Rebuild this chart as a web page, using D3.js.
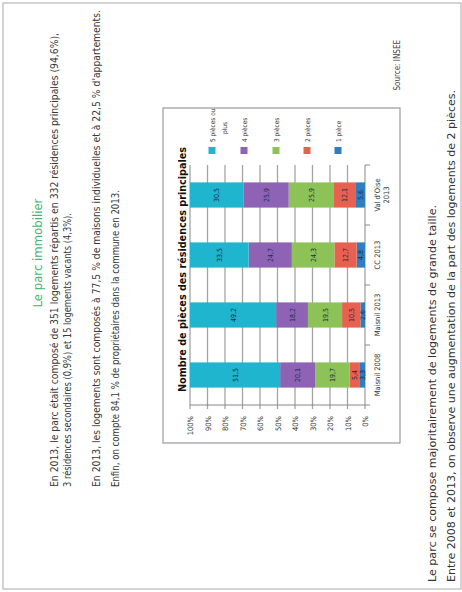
<!DOCTYPE html>
<html>
<head>
<meta charset="utf-8">
<script src="https://cdn.jsdelivr.net/npm/d3@7"></script>
<style>
  body { margin: 0; background: #fff; }
  text { font-family: "Liberation Sans Narrow", "DejaVu Sans Condensed", "DejaVu Sans", sans-serif; }
</style>
</head>
<body>
<svg id="page" width="462" height="592"></svg>
<script>
// Data.
var categories = ['Maisnil 2008', 'Maisnil 2013', 'CC 2013', 'Val d\'Oise\n2013'];
var seriesNames = ['1 pièce', '2 pièces', '3 pièces', '4 pièces', '5 pièces ou\nplus'];
var onePiece = [3.3, 2.6, 4.8, 5.6];
var twoPieces = [5.4, 10.5, 12.7, 12.1];
var threePieces = [19.7, 19.5, 24.3, 25.9];
var fourPieces = [20.1, 18.2, 24.7, 25.9];
var fivePlus = [51.5, 49.2, 33.5, 30.5];
var yTicks = [0, 10, 20, 30, 40, 50, 60, 70, 80, 90, 100];

var introLines = [
  'En 2013, le parc était composé de 351 logements répartis en 332 résidences principales (94,6%),',
  '3 résidences secondaires (0,9%) et 15 logements vacants (4,3%).',
  'En 2013, les logements sont composés à 77,5 % de maisons individuelles et à 22,5 % d\'appartements.',
  'Enfin, on compte 84,1 % de propriétaires dans la commune en 2013.'
];
var outroLines = [
  'Le parc se compose majoritairement de logements de grande taille.',
  'Entre 2008 et 2013, on observe une augmentation de la part des logements de 2 pièces.'
];

// Colors.
var kColors = ['#2e7fc1', '#e8604f', '#8dc356', '#8e63b5', '#1fb5cf'];
var kGrid = '#a4a4a4';

// The page is drawn upright (592 x 462) then turned a quarter left.
var svg = d3.select('#page');
var page = svg.append('g').attr('transform', 'translate(0,592) rotate(-90)');

// Outer frame.
page.append('rect')
  .attr('x', 3).attr('y', 3).attr('width', 586).attr('height', 458)
  .attr('fill', 'none').attr('stroke', '#b8b8b8').attr('stroke-width', 1.2);

// Title.
page.append('text')
  .attr('x', 339).attr('y', 42)
  .attr('text-anchor', 'middle')
  .attr('font-size', 13)
  .attr('fill', '#45b574')
  .text('Le parc immobilier');

// Intro text.
var introY = [58, 71, 100, 119];
var introLen = [454, 274, 477, 297];
page.selectAll('text.intro').data(introLines).enter().append('text')
  .attr('class', 'intro')
  .attr('x', 105)
  .attr('y', function(d, i) { return introY[i]; })
  .attr('font-size', 10)
  .attr('fill', '#3a3a3a')
  .attr('textLength', function(d, i) { return introLen[i]; })
  .attr('lengthAdjust', 'spacingAndGlyphs')
  .text(function(d) { return d; });

// Chart box.
page.append('rect')
  .attr('x', 149).attr('y', 163).attr('width', 335).attr('height', 237)
  .attr('fill', '#fff').attr('stroke', '#999').attr('stroke-width', 1.2);

page.append('text')
  .attr('x', 200).attr('y', 186)
  .attr('font-size', 11)
  .attr('font-weight', 'bold')
  .attr('fill', '#111')
  .attr('textLength', 245)
  .attr('lengthAdjust', 'spacingAndGlyphs')
  .text('Nombre de pièces des résidences principales');

// Scales.
var x = d3.scaleBand().domain(categories).range([187, 427])
  .paddingInner(0.58).paddingOuter(0.29);
var y = d3.scaleLinear().domain([0, 100]).range([365, 190]);

// Grid lines.
page.selectAll('line.grid').data(yTicks).enter().append('line')
  .attr('class', 'grid')
  .attr('x1', 183).attr('x2', 427)
  .attr('y1', function(d) { return y(d); })
  .attr('y2', function(d) { return y(d); })
  .attr('stroke', kGrid).attr('stroke-width', 1.3);

// Y axis line and labels.
page.append('line')
  .attr('x1', 187).attr('x2', 187).attr('y1', y(0)).attr('y2', y(100))
  .attr('stroke', '#888').attr('stroke-width', 1.2);
page.selectAll('text.ytick').data(yTicks).enter().append('text')
  .attr('class', 'ytick')
  .attr('x', 176)
  .attr('y', function(d) { return y(d) + 3; })
  .attr('text-anchor', 'end')
  .attr('font-size', 7.5)
  .attr('fill', '#333')
  .text(function(d) { return d + '%'; });

// Category ticks and labels.
var step = x.step();
page.selectAll('line.xtick').data(d3.range(categories.length + 1)).enter().append('line')
  .attr('class', 'xtick')
  .attr('x1', function(i) { return 187 + i * step; })
  .attr('x2', function(i) { return 187 + i * step; })
  .attr('y1', y(0)).attr('y2', y(0) + 5)
  .attr('stroke', '#888');
var catText = page.selectAll('text.cat').data(categories).enter().append('text')
  .attr('class', 'cat')
  .attr('x', function(d) { return x(d) + x.bandwidth() / 2; })
  .attr('y', 380)
  .attr('text-anchor', 'middle')
  .attr('font-size', 7.5)
  .attr('fill', '#333');
catText.selectAll('tspan').data(function(d) { return d.split('\n'); }).enter().append('tspan')
  .attr('x', function() { var p = this.parentNode.__data__; return x(p) + x.bandwidth() / 2; })
  .attr('dy', function(d, i) { return i == 0 ? 0 : 9; })
  .text(function(d) { return d; });

// Stacked bars.
var keys = ['p1', 'p2', 'p3', 'p4', 'p5'];
var rows = categories.map(function(c, i) {
  return { cat: c, p1: onePiece[i], p2: twoPieces[i], p3: threePieces[i],
           p4: fourPieces[i], p5: fivePlus[i] };
});
var series = d3.stack().keys(keys)(rows);

var layers = page.selectAll('g.layer').data(series).enter().append('g')
  .attr('class', 'layer')
  .attr('fill', function(d, i) { return kColors[i]; });
layers.selectAll('rect').data(function(d) { return d; }).enter().append('rect')
  .attr('x', function(d) { return x(d.data.cat); })
  .attr('width', x.bandwidth())
  .attr('y', function(d) { return y(d[1]); })
  .attr('height', function(d) { return y(d[0]) - y(d[1]); });
layers.selectAll('text').data(function(d) { return d; }).enter().append('text')
  .attr('x', function(d) { return x(d.data.cat) + x.bandwidth() / 2; })
  .attr('y', function(d) { return (y(d[0]) + y(d[1])) / 2 + 2.5; })
  .attr('text-anchor', 'middle')
  .attr('font-size', 7)
  .attr('fill', '#1d2b4c')
  .text(function(d) { return d3.format('.1f')(d[1] - d[0]).replace('.', ','); });

// Legend (top item first).
var legendV = [338, 307, 276, 244, 212];
var legend = page.selectAll('g.legend').data(seriesNames).enter().append('g')
  .attr('class', 'legend')
  .attr('transform', function(d, i) { return 'translate(438,' + legendV[i] + ')'; });
legend.append('rect')
  .attr('x', 0).attr('y', -3.5).attr('width', 7).attr('height', 7)
  .attr('fill', function(d, i) { return kColors[i]; });
var legendText = legend.append('text')
  .attr('x', 12).attr('y', 2.5)
  .attr('font-size', 6.5)
  .attr('fill', '#333');
legendText.selectAll('tspan').data(function(d) { return d.split('\n'); }).enter().append('tspan')
  .attr('x', function(d, i) { return i == 0 ? 12 : 20; })
  .attr('dy', function(d, i) { return i == 0 ? 0 : 12; })
  .text(function(d) { return d; });

// Source.
page.append('text')
  .attr('x', 552).attr('y', 400)
  .attr('text-anchor', 'end')
  .attr('font-size', 8)
  .attr('fill', '#444')
  .text('Source: INSEE');

// Closing text.
var outroY = [436, 455];
var outroLen = [377, 492];
page.selectAll('text.outro').data(outroLines).enter().append('text')
  .attr('class', 'outro')
  .attr('x', 10)
  .attr('y', function(d, i) { return outroY[i]; })
  .attr('font-size', 10.5)
  .attr('fill', '#333')
  .attr('textLength', function(d, i) { return outroLen[i]; })
  .attr('lengthAdjust', 'spacingAndGlyphs')
  .text(function(d) { return d; });
</script>
</body>
</html>
